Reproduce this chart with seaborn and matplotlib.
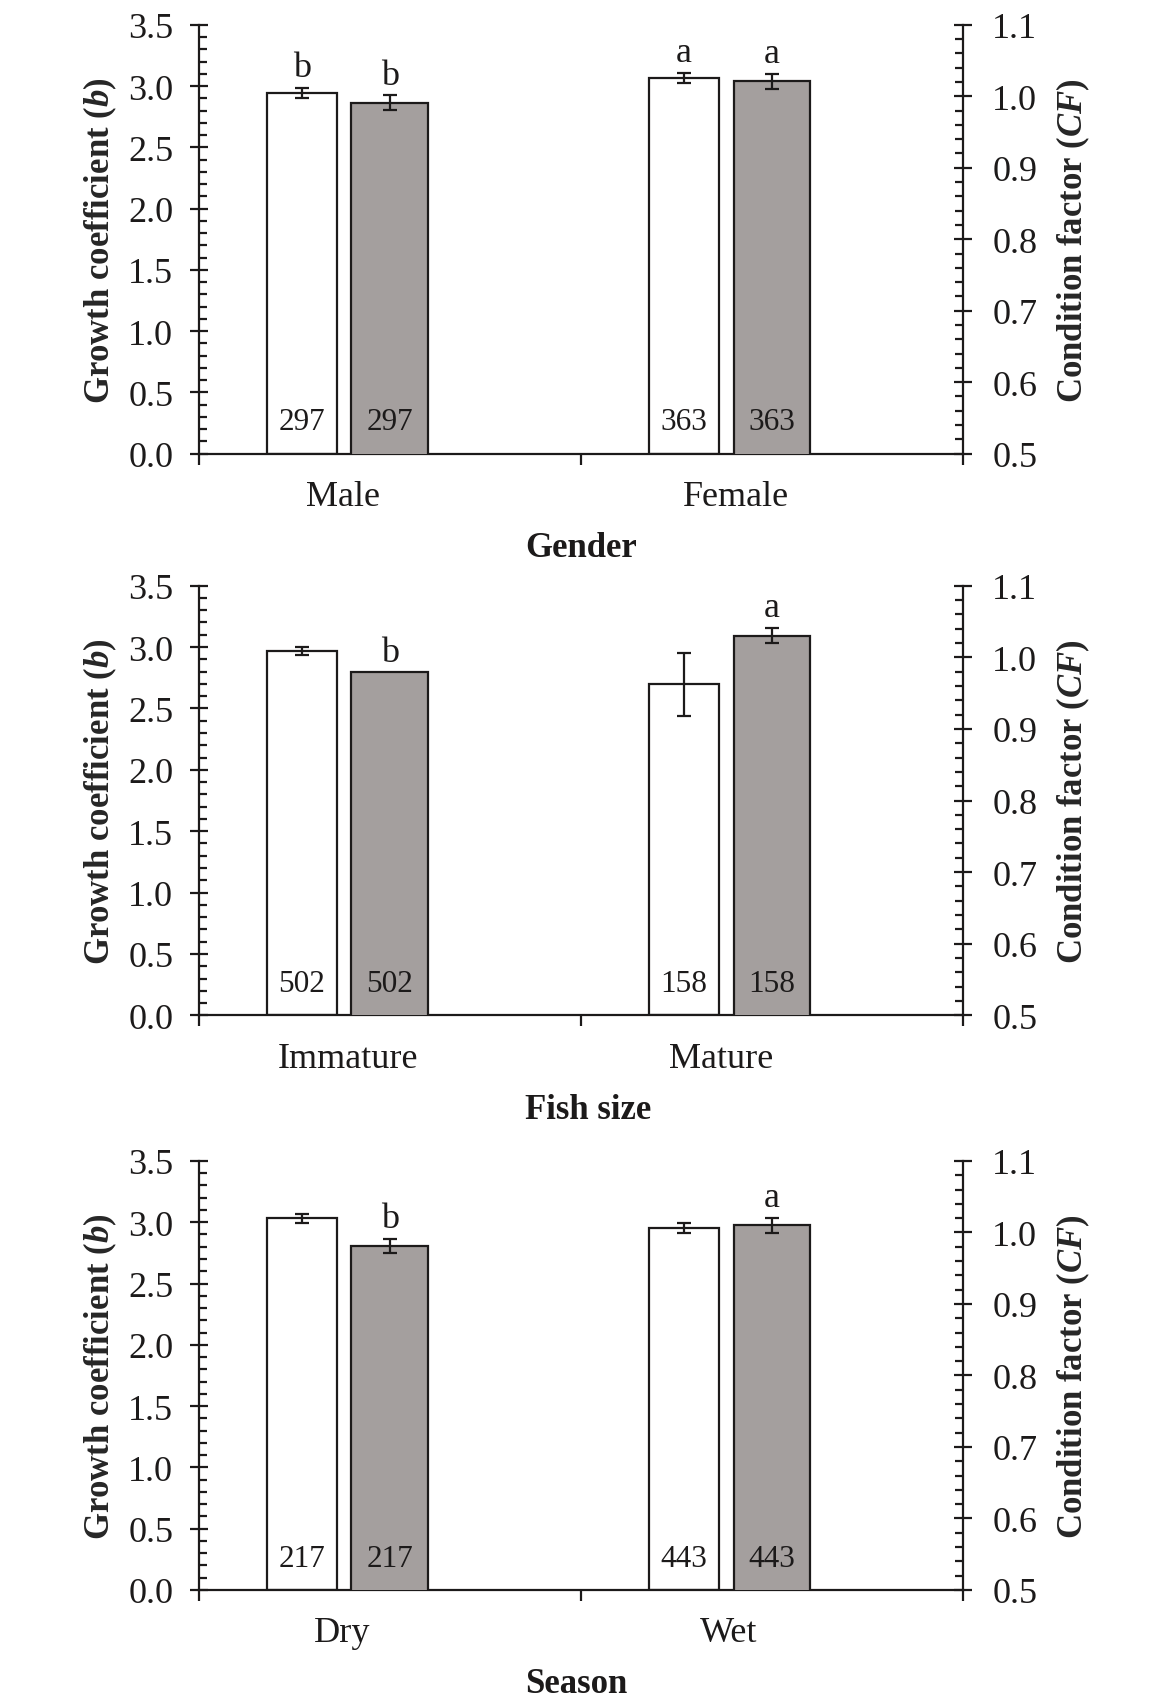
import numpy as np
import matplotlib
matplotlib.use("Agg")
import matplotlib.pyplot as plt
from matplotlib.ticker import MultipleLocator, FormatStrFormatter
import seaborn as sns

# ---- data -------------------------------------------------------------
factors = ["Gender", "Fish size", "Season"]
groups = [["Male", "Female"], ["Immature", "Mature"], ["Dry", "Wet"]]

growth_b = [[2.944, 3.064], [2.966, 2.695], [3.034, 2.951]]
growth_b_se = [[0.044, 0.042], [0.032, 0.258], [0.037, 0.042]]
growth_b_letters = [["b", "a"], ["", ""], ["", ""]]

condition_cf = [[0.991, 1.021], [0.979, 1.030], [0.981, 1.010]]
condition_cf_se = [[0.0102, 0.0105], [0.0, 0.0105], [0.0104, 0.0104]]
condition_cf_letters = [["b", "a"], ["b", "a"], ["b", "a"]]

sample_n = [[297, 363], [502, 158], [217, 443]]

# ---- style ------------------------------------------------------------
sns.set_style("ticks")
plt.rcParams["font.family"] = ["Liberation Serif", "DejaVu Serif"]
plt.rcParams["mathtext.fontset"] = "custom"
plt.rcParams["mathtext.rm"] = "Liberation Serif"
plt.rcParams["mathtext.it"] = "Liberation Serif:italic"
plt.rcParams["mathtext.bf"] = "Liberation Serif:bold"
plt.rcParams["mathtext.bfit"] = "Liberation Serif:italic:bold"

INK = "#1c1a1a"
GREY = "#a49f9e"
LW = 1.6
B_OFFSET = -0.23     # white bar shift from category centre
B_WIDTH = 0.183
CF_WIDTH = 0.201
# horizontal placement of the group names relative to the category centre
NAME_SHIFTS = [[-0.122, -0.093], [-0.109, -0.132], [-0.124, -0.113]]

plt.rcParams["axes.edgecolor"] = INK
plt.rcParams["text.color"] = INK
plt.rcParams["xtick.color"] = INK
plt.rcParams["ytick.color"] = INK

fig = plt.figure(figsize=(11.56, 16.99), dpi=100)
rects = [
    [0.1718, 0.7324, 0.6614, 0.2524],
    [0.1718, 0.4018, 0.6614, 0.2529],
    [0.1718, 0.0636, 0.6614, 0.2525],
]

for i, rect in enumerate(rects):
    ax = fig.add_axes(rect)
    ax2 = ax.twinx()
    idx = np.arange(len(groups[i]))
    x_b = idx + B_OFFSET

    sns.barplot(x=x_b, y=growth_b[i], native_scale=True, width=B_WIDTH,
                color="white", saturation=1, edgecolor=INK, linewidth=LW,
                errorbar=None, ax=ax)
    sns.barplot(x=idx, y=condition_cf[i], native_scale=True, width=CF_WIDTH,
                color=GREY, saturation=1, edgecolor=INK, linewidth=LW,
                errorbar=None, ax=ax2)

    # error bars
    for axis, xs, vals, errs in ((ax, x_b, growth_b[i], growth_b_se[i]),
                                 (ax2, idx, condition_cf[i], condition_cf_se[i])):
        for x, v, e in zip(xs, vals, errs):
            if e > 0:
                axis.errorbar(x, v, yerr=e, fmt="none", ecolor=INK,
                              elinewidth=LW, capsize=4.7, capthick=LW)

    # significance letters
    for axis, xs, vals, errs, letters in (
            (ax, x_b, growth_b[i], growth_b_se[i], growth_b_letters[i]),
            (ax2, idx, condition_cf[i], condition_cf_se[i], condition_cf_letters[i])):
        for x, v, e, t in zip(xs, vals, errs, letters):
            if t:
                axis.annotate(t, xy=(x, v + e), xytext=(0, 8.5),
                              textcoords="offset points", ha="center",
                              va="baseline", fontsize=26)

    # sample sizes inside bars
    for x, n in zip(x_b, sample_n[i]):
        ax.annotate(str(n), xy=(x, 0), xytext=(0, 17.5),
                    textcoords="offset points", ha="center", va="baseline",
                    fontsize=22.5)
    for x, n in zip(idx, sample_n[i]):
        ax2.annotate(str(n), xy=(x, 0.5), xytext=(0, 17.5),
                     textcoords="offset points", ha="center", va="baseline",
                     fontsize=22.5)

    # axes limits and ticks
    ax.set_xlim(-0.5, 1.5)
    ax.set_ylim(0, 3.5)
    ax2.set_ylim(0.5, 1.1)

    ax.set_yticks(np.arange(0, 3.51, 0.5))
    ax.yaxis.set_major_formatter(FormatStrFormatter("%.1f"))
    ax.yaxis.set_minor_locator(MultipleLocator(0.1))
    ax2.set_yticks(np.arange(0.5, 1.101, 0.1))
    ax2.yaxis.set_major_formatter(FormatStrFormatter("%.1f"))
    ax2.yaxis.set_minor_locator(MultipleLocator(0.02))

    ax.set_xticks([-0.5, 0.5, 1.5])
    ax.set_xticks(idx, minor=True)
    ax.tick_params(axis="x", which="major", direction="out", length=8,
                   width=LW, labelbottom=False)
    ax.tick_params(axis="x", which="minor", direction="in", length=5.8,
                   width=LW, labelbottom=False)
    ax.tick_params(axis="y", which="major", direction="inout", length=13,
                   width=LW, labelsize=26, pad=11.8)
    ax.tick_params(axis="y", which="minor", direction="in", length=5.8,
                   width=LW)
    ax2.tick_params(axis="y", which="major", direction="inout", length=13,
                    width=LW, labelsize=26, pad=14.5)
    ax2.tick_params(axis="y", which="minor", direction="in", length=5.8,
                    width=LW)

    for s in ("top", "right"):
        ax.spines[s].set_visible(False)
    for s in ("top", "left", "bottom"):
        ax2.spines[s].set_visible(False)
    for sp in (ax.spines["left"], ax.spines["bottom"], ax2.spines["right"]):
        sp.set_linewidth(LW)

    # group names under each pair of bars
    sec = ax.secondary_xaxis("bottom")
    sec.set_ticks(idx + np.array(NAME_SHIFTS[i]), groups[i])
    sec.tick_params(length=0, pad=19, labelsize=26)
    sec.spines["bottom"].set_visible(False)

    # axis titles
    ax.set_xlabel("")
    ax.set_ylabel(r"Growth coefficient ($\mathbfit{b}$)", fontsize=25,
                  fontweight="bold")
    ax.yaxis.set_label_coords(-0.104, 0.5)
    ax2.set_ylabel(r"Condition factor ($\mathbfit{CF}$)", fontsize=25,
                   fontweight="bold")
    ax2.yaxis.set_label_coords(1.119, 0.5)
    ax.text(0.4269, -0.238, factors[i], transform=ax.transAxes, ha="left",
            va="baseline", fontsize=25, fontweight="bold")

fig.savefig("out.png", dpi=100, facecolor="white")
